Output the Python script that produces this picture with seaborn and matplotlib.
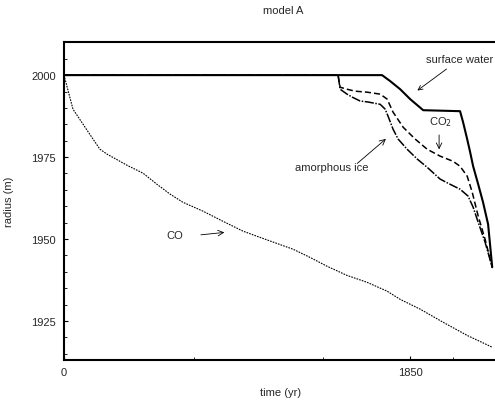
import numpy as np
import seaborn as sns
import matplotlib.pyplot as plt
from matplotlib.ticker import FixedLocator

# (time in yr, radius in m)
co_t = [0, 48, 155, 192, 230, 337, 422, 497, 567, 636, 743, 850, 957, 1048,
        1224, 1315, 1406, 1513, 1620, 1727, 1797, 1904, 2027, 2155, 2289]
co_r = [2000, 1989.6, 1980.5, 1977.4, 1975.9, 1972.5, 1970.1, 1966.7, 1963.7,
        1961.2, 1958.5, 1955.4, 1952.4, 1950.5, 1946.9, 1944.4, 1941.7, 1938.9,
        1936.8, 1934.1, 1931.6, 1928.6, 1924.6, 1920.6, 1917.0]

co2_t = [0, 1465, 1476, 1513, 1556, 1620, 1690, 1727, 1759, 1813, 1877, 1941,
         2010, 2080, 2117, 2155, 2182, 2214, 2251, 2289]
co2_r = [2000, 2000, 1996.3, 1995.7, 1995.1, 1994.8, 1994.2, 1992.7, 1988.7,
         1984.1, 1980.5, 1977.4, 1975.3, 1973.7, 1972.2, 1969.2, 1964.3,
         1957.0, 1949.9, 1941.4]

ice_t = [0, 1465, 1476, 1513, 1540, 1583, 1625, 1690, 1717, 1732, 1759, 1786,
         1834, 1888, 1941, 2010, 2064, 2117, 2160, 2187, 2214, 2251, 2289]
ice_r = [2000, 2000, 1995.7, 1994.2, 1993.3, 1992.1, 1991.8, 1991.1, 1989.6,
         1987.5, 1983.5, 1980.5, 1977.4, 1974.4, 1971.9, 1968.3, 1966.7,
         1965.2, 1963.1, 1959.7, 1955.1, 1949.0, 1941.4]

water_t = [0, 1700, 1743, 1797, 1850, 1920, 2117, 2133, 2155, 2171, 2187,
           2214, 2240, 2267, 2289]
water_r = [2000, 2000, 1998.2, 1995.7, 1992.7, 1989.3, 1989.0, 1985.7, 1980.5,
           1976.5, 1972.2, 1966.7, 1961.2, 1954.5, 1941.4]

x_major = [0, 1850]
x_minor = [695, 1385, 2080]
y_major = [1925, 1950, 1975, 2000]

sns.set_style("ticks")
plt.rcParams['font.family'] = ['Liberation Sans', 'DejaVu Sans']

fig = plt.figure(figsize=(4.95, 4.02), dpi=100)
ax = fig.add_axes([0.1293, 0.102, 0.8768, 0.791])

sns.lineplot(x=co_t, y=co_r, ax=ax, color="black", lw=0.8,
             linestyle=(0, (1.5, 1)), sort=False, estimator=None)
sns.lineplot(x=ice_t, y=ice_r, ax=ax, color="black", lw=1.1,
             linestyle=(0, (6, 1, 1, 1)), sort=False, estimator=None)
sns.lineplot(x=co2_t, y=co2_r, ax=ax, color="black", lw=1.1,
             linestyle=(0, (4, 2)), sort=False, estimator=None)
sns.lineplot(x=water_t, y=water_r, ax=ax, color="black", lw=1.5,
             sort=False, estimator=None)

ax.set_xlim(0, 2320)
ax.set_ylim(1913.1, 2010.1)

ax.set_xticks(x_major)
ax.xaxis.set_minor_locator(FixedLocator(x_minor + [1850]))
ax.set_yticks(y_major)
ax.yaxis.set_minor_locator(FixedLocator(np.arange(1915, 2010, 5)))
ax.tick_params(which="both", direction="in", labelsize=8, color="black")
ax.tick_params(which="major", length=3, width=0.8)
ax.tick_params(which="minor", length=2, width=0.6)
ax.tick_params(axis="x", pad=5)
ax.tick_params(axis="y", pad=6)
for s in ax.spines.values():
    s.set_linewidth(1.5)
    s.set_color("black")

ax.set_xlabel("time (yr)", fontsize=8, labelpad=7)
ax.set_ylabel("radius (m)", fontsize=8, labelpad=12)
fig.text(0.572, 0.972, "model A", fontsize=8, ha="center", va="center")

arrow = dict(arrowstyle="->", lw=0.6, color="black")
ax.annotate("surface water", xy=(1877, 1994.8), xytext=(2117, 2004.9),
            fontsize=8, ha="center", va="center", arrowprops=arrow)
ax.annotate("", xy=(2005, 1976.5), xytext=(2005, 1982.6), arrowprops=arrow)
ax.text(2010, 1986.0, "CO$_2$", fontsize=8, ha="center", va="center")
ax.text(1433, 1971.9, "amorphous ice", fontsize=8, ha="center", va="center")
ax.annotate("", xy=(1732, 1981.1), xytext=(1556, 1972.5), arrowprops=arrow)
ax.text(594, 1951.2, "CO", fontsize=8, ha="center", va="center")
ax.annotate("", xy=(872, 1952.1), xytext=(717, 1951.2), arrowprops=arrow)

fig.savefig("out.png", dpi=100)
